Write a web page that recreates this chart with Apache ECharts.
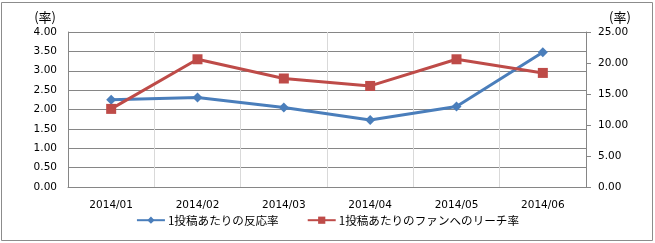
<!DOCTYPE html>
<html><head><meta charset="utf-8">
<script src="https://cdn.jsdelivr.net/npm/echarts@6/dist/echarts.min.js"></script>
<style>html,body{margin:0;padding:0;background:#fff}#c{width:655px;height:243px}</style>
</head><body><div id="c"></div>
<script>
const categories = ['2014/01','2014/02','2014/03','2014/04','2014/05','2014/06'];
const seriesNames = ['1投稿あたりの反応率','1投稿あたりのファンへのリーチ率'];
const reactionRate = [2.25, 2.31, 2.05, 1.73, 2.08, 3.48];
const reachRate = [12.6, 20.6, 17.5, 16.3, 20.6, 18.4];
const leftTicks = {min:0, max:4, interval:0.5};
const rightTicks = {min:0, max:25, interval:5};

const numFont = 'DejaVu Sans, Verdana, sans-serif';
const jpFont = '"Noto Sans CJK JP", sans-serif';
const chart = echarts.init(document.getElementById('c'), null, {renderer:'canvas'});
chart.setOption({
  animation:false,
  backgroundColor:'#fff',
  graphic:[{type:'rect', shape:{x:1.5,y:2.5,width:651,height:238}, style:{fill:'none', stroke:'#8c8c8c', lineWidth:1}, silent:true}],
  grid:{left:68, right:69, top:32, bottom:56},
  legend:{
    bottom:12, left:'center', itemWidth:28, itemHeight:9, itemGap:28,
    textStyle:{fontFamily:jpFont, fontSize:11.6, color:'#000', padding:[0,0,0,-2]},
    data:seriesNames
  },
  xAxis:{
    type:'category', data:categories, boundaryGap:true,
    axisLine:{lineStyle:{color:'#868686'}},
    axisTick:{show:false},
    axisLabel:{color:'#000', fontFamily:numFont, fontSize:10.5, margin:13},
    splitLine:{show:true, lineStyle:{color:'#d9d9d9', width:1}}
  },
  yAxis:[{
    type:'value', min:leftTicks.min, max:leftTicks.max, interval:leftTicks.interval,
    name:'(率)', nameLocation:'end', nameGap:15,
    nameTextStyle:{fontFamily:jpFont, fontSize:13, color:'#000', align:'right', verticalAlign:'middle', padding:[0,12,0,0]},
    axisLine:{show:true, lineStyle:{color:'#868686'}},
    axisTick:{show:false},
    axisLabel:{color:'#000', fontFamily:numFont, fontSize:10.5, margin:11, formatter:v=>v.toFixed(2)},
    splitLine:{show:true, lineStyle:{color:'#868686', width:1}}
  },{
    type:'value', min:rightTicks.min, max:rightTicks.max, interval:rightTicks.interval,
    name:'(率)', nameLocation:'end', nameGap:15,
    nameTextStyle:{fontFamily:jpFont, fontSize:13, color:'#000', align:'left', verticalAlign:'middle', padding:[0,0,0,23]},
    axisLine:{show:true, lineStyle:{color:'#868686'}},
    axisTick:{show:true, length:5, lineStyle:{color:'#868686'}},
    axisLabel:{color:'#000', fontFamily:numFont, fontSize:10.5, margin:12, formatter:v=>v.toFixed(2)},
    splitLine:{show:false}
  }],
  series:[{
    name:seriesNames[0], type:'line', yAxisIndex:0, data:reactionRate,
    symbol:'diamond', symbolSize:10, showAllSymbol:true,
    lineStyle:{color:'#4a7ebb', width:3},
    itemStyle:{color:'#4a7ebb', borderWidth:0}
  },{
    name:seriesNames[1], type:'line', yAxisIndex:1, data:reachRate,
    symbol:'rect', symbolSize:10, showAllSymbol:true,
    lineStyle:{color:'#be4b48', width:3},
    itemStyle:{color:'#be4b48', borderWidth:0}
  }]
});
</script></body></html>
